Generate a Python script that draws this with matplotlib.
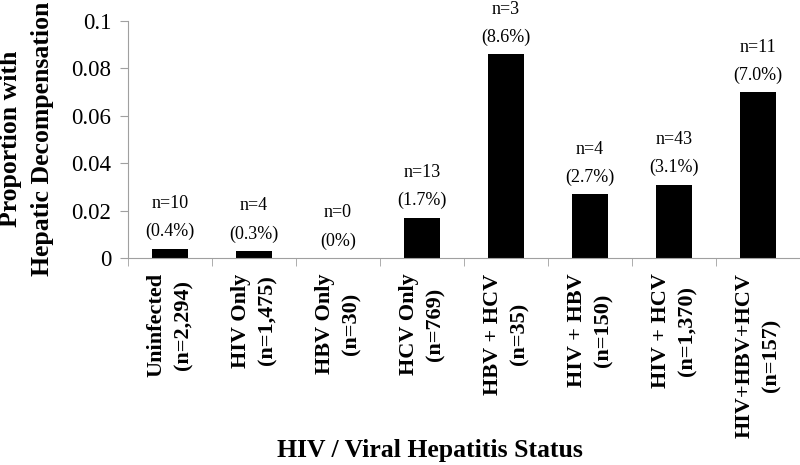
import matplotlib.pyplot as plt
import numpy as np

# hepatic decompensation by HIV / viral hepatitis group
categories = ['Uninfected', 'HIV Only', 'HBV Only', 'HCV Only',
              'HBV + HCV', 'HIV + HBV', 'HIV + HCV', 'HIV+HBV+HCV']
group_n = ['2,294', '1,475', '30', '769', '35', '150', '1,370', '157']
events = [10, 4, 0, 13, 3, 4, 43, 11]
proportion = [0.004, 0.003, 0.0, 0.017, 0.086, 0.027, 0.031, 0.070]
pct_labels = ['0.4%', '0.3%', '0%', '1.7%', '8.6%', '2.7%', '3.1%', '7.0%']
y_ticks = [0, 0.02, 0.04, 0.06, 0.08, 0.1]
y_tick_labels = ['0', '0.02', '0.04', '0.06', '0.08', '0.1']

plt.rcParams['font.family'] = ['Liberation Serif', 'DejaVu Serif']

fig = plt.figure(figsize=(8, 4.65), dpi=100)
ax = fig.add_axes([0.16, 0.4452, 0.84, 0.5096])

x = np.arange(len(categories))
ax.bar(x, proportion, width=0.42, color='black', zorder=2)

# annotations above each bar
for xi, val, n_ev, pct in zip(x, proportion, events, pct_labels):
    ax.annotate(f'({pct})', (xi, val), xytext=(0, 12.2), textcoords='offset points',
                ha='center', va='center', fontsize=13)
    ax.annotate(f'n={n_ev}', (xi, val), xytext=(0, 32.4), textcoords='offset points',
                ha='center', va='center', fontsize=13)

ax.set_xlim(-0.5, len(categories) - 0.5)
ax.set_ylim(0, 0.1)
ax.set_yticks(y_ticks)
ax.set_yticklabels(y_tick_labels, fontsize=16.5)

# category labels at centres, tick marks on the boundaries
ax.set_xticks(x)
labels = ax.set_xticklabels([f'{c}\n(n={n})' for c, n in zip(categories, group_n)],
                            rotation=90, fontsize=16, fontweight='bold')
for lab in labels:
    lab.set_multialignment('center')
    lab.set_linespacing(1.45)
ax.tick_params(axis='x', which='major', length=0, pad=11)
ax.set_xticks(np.arange(len(categories) + 1) - 0.5, minor=True)
ax.tick_params(axis='x', which='minor', length=6, color='#a0a0a0', direction='out')
ax.tick_params(axis='y', length=6, color='#a0a0a0', pad=6)

for side in ['top', 'right']:
    ax.spines[side].set_visible(False)
for side in ['left', 'bottom']:
    ax.spines[side].set_color('#a0a0a0')

fig.text(27 / 800, 1 - 139 / 465, 'Proportion with\nHepatic Decompensation',
         rotation=90, ha='center', va='center', fontsize=18.5, fontweight='bold',
         linespacing=1.5)
fig.text(430 / 800, 1 - 450 / 465, 'HIV / Viral Hepatitis Status',
         ha='center', va='center', fontsize=18.5, fontweight='bold')

fig.savefig('out.png', dpi=100)
